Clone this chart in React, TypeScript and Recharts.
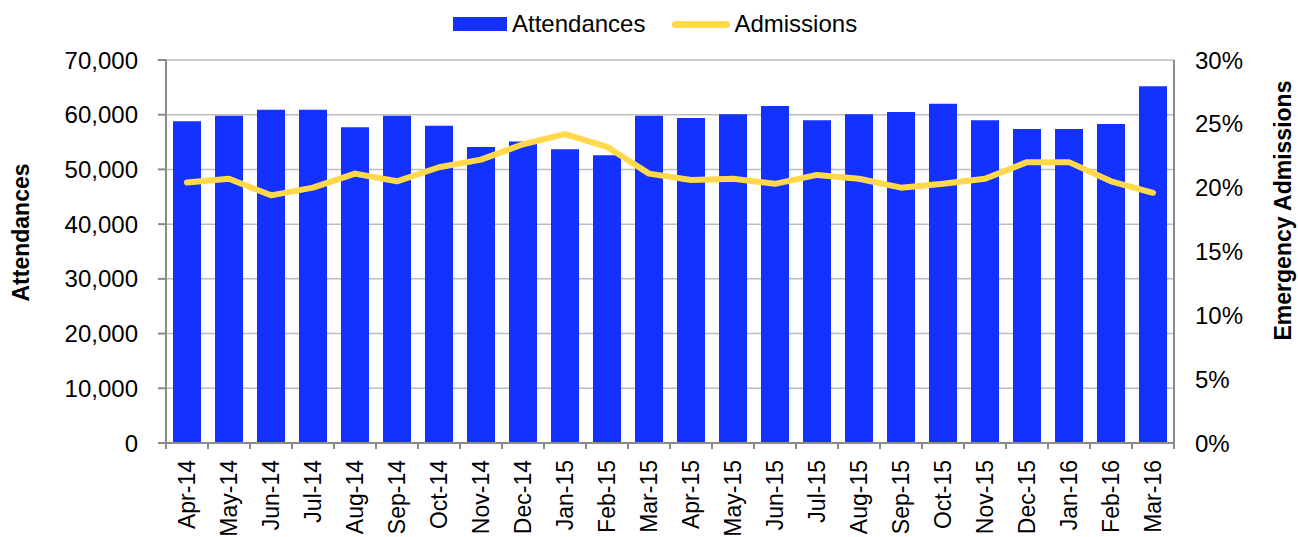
import { ComposedChart, Bar, Line, XAxis, YAxis, CartesianGrid } from 'recharts';

const months = [
  'Apr-14', 'May-14', 'Jun-14', 'Jul-14', 'Aug-14', 'Sep-14', 'Oct-14', 'Nov-14',
  'Dec-14', 'Jan-15', 'Feb-15', 'Mar-15', 'Apr-15', 'May-15', 'Jun-15', 'Jul-15',
  'Aug-15', 'Sep-15', 'Oct-15', 'Nov-15', 'Dec-15', 'Jan-16', 'Feb-16', 'Mar-16',
];

const attendances = [
  58800, 59800, 60900, 60900, 57700, 59800, 58000, 54100,
  55100, 53700, 52600, 59800, 59400, 60100, 61600, 59000,
  60100, 60500, 62000, 59000, 57400, 57400, 58300, 65200,
];

// emergency admissions as % of attendances
const admissions = [
  20.4, 20.7, 19.4, 20.0, 21.1, 20.5, 21.6, 22.2,
  23.4, 24.2, 23.2, 21.1, 20.6, 20.7, 20.3, 21.0,
  20.7, 20.0, 20.3, 20.7, 22.0, 22.0, 20.5, 19.6,
];

const leftTicks = [0, 10000, 20000, 30000, 40000, 50000, 60000, 70000];
const rightTicks = [0, 5, 10, 15, 20, 25, 30];

const data = months.map((m, i) => ({ month: m, Attendances: attendances[i], Admissions: admissions[i] }));

const BLUE = '#1432ff';
const YELLOW = '#ffd94a';
const AXIS = '#8a8a8a';
const FONT = '"Liberation Sans", Arial, sans-serif';

const MonthTick = (props: any) => {
  const { x, y, payload, index, visibleTicksCount } = props;
  const off = payload.offset ?? 21;
  const ty = y + 17;
  return (
    <g>
      <line x1={x - off} x2={x - off} y1={y} y2={y + 6} stroke={AXIS} strokeWidth={2} />
      {index === visibleTicksCount - 1 && (
        <line x1={x + off} x2={x + off} y1={y} y2={y + 6} stroke={AXIS} strokeWidth={2} />
      )}
      <text
        x={x}
        y={ty}
        transform={`rotate(-90, ${x}, ${ty})`}
        textAnchor="end"
        dominantBaseline="central"
        fontSize={23}
        fontFamily={FONT}
        fill="#000"
      >
        {payload.value}
      </text>
    </g>
  );
};

const AxisTitle = (text: string, dx: number, dy: number) => (props: any) => {
  const vb = props.viewBox;
  const x = vb.x + dx;
  const y = vb.y + vb.height / 2 + dy;
  return (
    <text
      x={x}
      y={y}
      transform={`rotate(-90, ${x}, ${y})`}
      textAnchor="middle"
      dominantBaseline="central"
      fontSize={23}
      fontWeight="bold"
      fontFamily={FONT}
      fill="#000"
    >
      {text}
    </text>
  );
};

const ChartLegend = () => (
  <div
    style={{
      position: 'absolute',
      left: 453,
      top: 12,
      height: 24,
      display: 'flex',
      alignItems: 'center',
      fontFamily: FONT,
      fontSize: 24,
      lineHeight: '24px',
      color: '#000',
    }}
  >
    <span style={{ width: 54, height: 14, background: BLUE, marginRight: 5 }} />
    <span>Attendances</span>
    <span style={{ width: 58, height: 7, background: YELLOW, borderRadius: 4, marginLeft: 27, marginRight: 4 }} />
    <span>Admissions</span>
  </div>
);

export default function App() {
  return (
    <div style={{ position: 'absolute', left: 0, top: 0, width: 1298, height: 537, background: '#fff' }}>
      <ChartLegend />
      <ComposedChart
        width={1298}
        height={537}
        data={data}
        margin={{ top: 60, right: 0, bottom: 0, left: 0 }}
        style={{ fontFamily: FONT }}
      >
        <CartesianGrid vertical={false} stroke="#bdbdbd" strokeWidth={1.5} yAxisId="left" />
        <XAxis
          dataKey="month"
          height={94}
          interval={0}
          tick={<MonthTick />}
          tickLine={false}
          tickSize={0}
          tickMargin={0}
          axisLine={{ stroke: AXIS, strokeWidth: 2 }}
        />
        <YAxis
          yAxisId="left"
          width={166}
          domain={[0, 70000]}
          ticks={leftTicks}
          interval={0}
          tickFormatter={(v: number) => v.toLocaleString('en-US')}
          tick={{ fontSize: 24, fill: '#000', fontFamily: FONT }}
          tickSize={8}
          tickMargin={20}
          tickLine={{ stroke: AXIS, strokeWidth: 2 }}
          axisLine={{ stroke: AXIS, strokeWidth: 2 }}
          label={{ content: AxisTitle('Attendances', 21, -19) }}
        />
        <YAxis
          yAxisId="right"
          orientation="right"
          width={124}
          domain={[0, 30]}
          ticks={rightTicks}
          interval={0}
          tickFormatter={(v: number) => `${v}%`}
          tick={{ fontSize: 24, fill: '#000', fontFamily: FONT, textAnchor: 'start' }}
          tickSize={0}
          tickMargin={21}
          tickLine={false}
          axisLine={{ stroke: AXIS, strokeWidth: 2 }}
          label={{ content: AxisTitle('Emergency Admissions', 109, -41) }}
        />
        <Bar yAxisId="left" dataKey="Attendances" fill={BLUE} barSize={28} isAnimationActive={false} />
        <Line
          yAxisId="right"
          type="linear"
          dataKey="Admissions"
          stroke={YELLOW}
          strokeWidth={6}
          strokeLinecap="round"
          strokeLinejoin="round"
          dot={false}
          activeDot={false}
          isAnimationActive={false}
        />
      </ComposedChart>
    </div>
  );
}
